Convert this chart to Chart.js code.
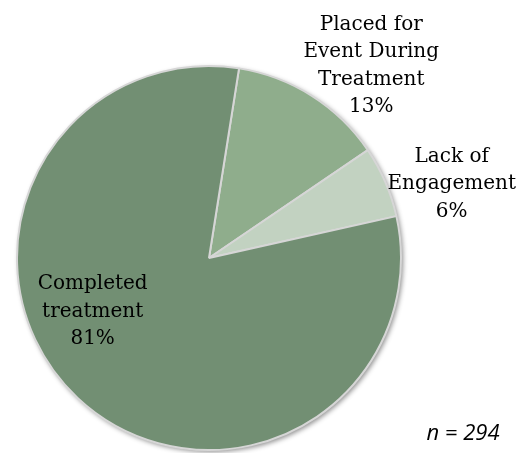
<!DOCTYPE html>
<html>
<head>
<meta charset="utf-8">
<script src="https://cdn.jsdelivr.net/npm/chart.js@4"></script>
<style>
html,body{margin:0;padding:0;background:#fff;}
#wrap{width:521px;height:453px;position:relative;}
</style>
</head>
<body>
<div id="wrap"><canvas id="c" width="521" height="453"></canvas></div>
<script>
const categories = ["Placed for Event During Treatment", "Lack of Engagement", "Completed treatment"];
const percents = [13, 6, 81];
const labelLines = [["Placed for", "Event During", "Treatment"], ["Lack of", "Engagement"], ["Completed", "treatment"]];
const sampleNote = "n = 294";
const colors = ["#8fad8c", "#c2d2c1", "#728f73"];

// label anchors as fractions of radius relative to pie centre
const labelAnchors = [[0.845, -1.0], [1.264, -0.385], [-0.606, 0.28]];

const labelPlugin = {
  id: 'labels',
  beforeDatasetsDraw(chart) {
    const arc = chart.getDatasetMeta(0).data[0];
    if (!arc) return;
    const ctx = chart.ctx;
    ctx.save();
    ctx.shadowColor = 'rgba(0,0,0,0.45)';
    ctx.shadowBlur = 5;
    ctx.shadowOffsetX = 2;
    ctx.shadowOffsetY = 2;
    ctx.fillStyle = '#cccccc';
    ctx.beginPath();
    ctx.arc(arc.x, arc.y, arc.outerRadius, 0, Math.PI * 2);
    ctx.fill();
    ctx.restore();
  },
  afterDatasetsDraw(chart) {
    const arc = chart.getDatasetMeta(0).data[0];
    const cx = arc.x, cy = arc.y, r = arc.outerRadius;
    const ctx = chart.ctx;
    ctx.save();
    ctx.fillStyle = '#000';
    ctx.textAlign = 'center';
    ctx.textBaseline = 'middle';
    ctx.font = '20px "DejaVu Serif", serif';
    const lh = 27.5;
    categories.forEach((c, i) => {
      const lines = labelLines[i].concat([percents[i] + '%']);
      const ax = cx + labelAnchors[i][0] * r;
      const ay = cy + labelAnchors[i][1] * r;
      const top = ay - (lines.length - 1) * lh / 2;
      lines.forEach((t, k) => ctx.fillText(t, ax, top + k * lh));
    });
    ctx.font = 'italic 22px "Open Sans", "DejaVu Sans", sans-serif';
    ctx.fillText(sampleNote, 463, 434);
    ctx.restore();
  }
};

new Chart(document.getElementById('c'), {
  type: 'pie',
  data: {
    labels: categories,
    datasets: [{
      data: percents,
      backgroundColor: colors,
      borderColor: '#d6d6d6',
      borderWidth: 2
    }]
  },
  options: {
    responsive: false,
    animation: false,
    rotation: 9,
    layout: { padding: { left: 16, right: 119, top: 65, bottom: 2 } },
    plugins: { legend: { display: false }, tooltip: { enabled: false } }
  },
  plugins: [labelPlugin]
});
</script>
</body>
</html>
